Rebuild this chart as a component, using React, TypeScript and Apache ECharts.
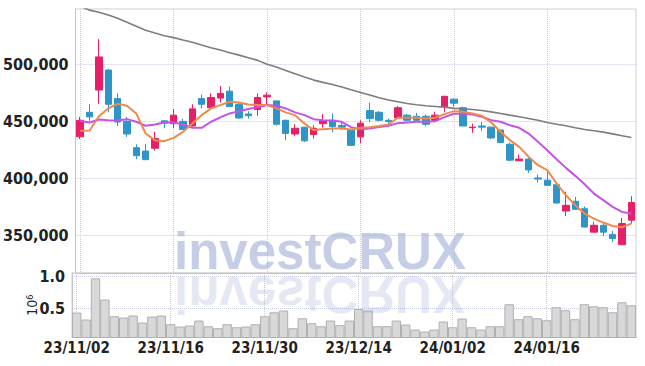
import React, { useEffect, useRef } from "react";
import * as echarts from "echarts";

const dates = [
  "23/11/02", "23/11/03", "23/11/06", "23/11/07", "23/11/08", "23/11/09", "23/11/10", "23/11/13", "23/11/14", "23/11/15",
  "23/11/16", "23/11/17", "23/11/20", "23/11/21", "23/11/22", "23/11/23", "23/11/24", "23/11/27", "23/11/28", "23/11/29",
  "23/11/30", "23/12/01", "23/12/04", "23/12/05", "23/12/06", "23/12/07", "23/12/08", "23/12/11", "23/12/12", "23/12/13",
  "23/12/14", "23/12/15", "23/12/18", "23/12/19", "23/12/20", "23/12/21", "23/12/22", "23/12/26", "23/12/27", "23/12/28",
  "24/01/02", "24/01/03", "24/01/04", "24/01/05", "24/01/08", "24/01/09", "24/01/10", "24/01/11", "24/01/12", "24/01/15",
  "24/01/16", "24/01/17", "24/01/18", "24/01/19", "24/01/22", "24/01/23", "24/01/24", "24/01/25", "24/01/26", "24/01/29",
];

const opens = [
  436500, 458000, 477500, 495000, 470000, 450000, 427000, 424000, 426500, 450500,
  448000, 450000, 446000, 470000, 462000, 470500, 476500, 465000, 456500, 460500,
  471500, 468000, 451000, 439000, 445000, 438500, 448000, 451000, 446500, 443000,
  436500, 459500, 458000, 451000, 453000, 455500, 454500, 454500, 451000, 463000,
  469500, 462000, 444500, 446000, 445000, 442500, 430000, 415500, 417000, 400500,
  398500, 394500, 371500, 380000, 373500, 353000, 359000, 351000, 342000, 363500,
];

const closes = [
  451000, 454000, 506500, 465000, 449500, 439000, 420000, 416500, 435000, 448500,
  455500, 443000, 461000, 465000, 471000, 474500, 463000, 453000, 455000, 471000,
  473000, 447500, 439500, 444000, 433000, 444000, 450500, 445500, 445000, 429000,
  448500, 452500, 451000, 450000, 462000, 451000, 451000, 447500, 455500, 472000,
  466000, 446000, 445000, 445000, 435500, 431500, 416000, 417000, 407500, 399500,
  394000, 378500, 376500, 373000, 357500, 359000, 353000, 347500, 360500, 379000,
];

const lows = [
  434500, 450500, 465500, 458000, 446000, 436500, 417000, 416000, 424500, 444000,
  444000, 443000, 445500, 461500, 461500, 466500, 462500, 452500, 452500, 455000,
  465000, 446500, 433500, 437000, 432000, 435000, 444500, 440500, 442500, 429000,
  431000, 449500, 450000, 447500, 452500, 450000, 450000, 446000, 450000, 458000,
  463000, 446000, 440000, 441500, 434500, 431000, 415500, 415500, 405000, 396500,
  393500, 378000, 367000, 372500, 357000, 353000, 349500, 344500, 342000, 360500,
];

const highs = [
  454000, 465000, 522000, 496000, 474500, 454000, 430000, 430000, 441000, 451000,
  461000, 452500, 465000, 473500, 474500, 481000, 480500, 466500, 459000, 474500,
  475500, 468000, 451500, 447500, 445000, 446500, 456500, 457000, 449000, 443000,
  451000, 466500, 459000, 452500, 463500, 456500, 457500, 456000, 458500, 472500,
  470000, 463000, 448000, 449500, 445500, 442500, 431500, 421000, 418000, 403500,
  406000, 397000, 388500, 384000, 375500, 362000, 361000, 354000, 365500, 384500,
];

const ma5 = [
  441800, 442100, 454600, 461400, 465500, 463700, 457000, 439400, 433600, 432700,
  435600, 440900, 448200, 455500, 461400, 464300, 467200, 466600, 464900, 464300,
  464300, 461400, 457900, 455500, 448200, 442400, 443200, 443800, 443800, 442900,
  444400, 445000, 445900, 447300, 453200, 453200, 453200, 452600, 453200, 456400,
  459000, 458400, 457000, 454900, 449100, 440900, 433600, 427700, 419000, 411700,
  407300, 395600, 385300, 376600, 369300, 364900, 361400, 358400, 357300, 360500,
];

const ma10 = [
  450300, 449100, 451700, 451100, 450800, 452000, 449700, 446200, 447300, 449100,
  449100, 447300, 444400, 444400, 449700, 453500, 457000, 459000, 460800, 462500,
  464300, 463700, 461400, 457900, 455500, 452000, 451100, 450800, 449700, 445000,
  443200, 443800, 445000, 446200, 448500, 449100, 449700, 449700, 450200, 453800,
  456700, 456700, 456100, 454100, 451100, 449700, 446700, 444400, 439400, 432100,
  424800, 416900, 409300, 402300, 395000, 386800, 381000, 375100, 370700, 369300,
];

const ma60 = [
  551000, 547500, 545600, 543200, 540300, 536800, 533300, 529800, 527400, 525100,
  523400, 521300, 519300, 516900, 514600, 512500, 510200, 508100, 505800, 503500,
  500000, 497600, 494700, 491800, 488900, 486200, 484200, 482400, 480100, 477700,
  475400, 473100, 470700, 468700, 467200, 465700, 464600, 463700, 463100, 462500,
  461400, 461100, 460500, 459600, 458400, 457000, 455500, 454100, 452600, 451100,
  449100, 447600, 446200, 444400, 442900, 441800, 440600, 439100, 437400, 435900,
];

// trading volume, millions of shares
const volumes = [
  0.436, 0.326, 0.973, 0.64, 0.378, 0.357, 0.389, 0.279, 0.373, 0.389,
  0.252, 0.216, 0.232, 0.31, 0.221, 0.19, 0.252, 0.205, 0.216, 0.252,
  0.378, 0.44, 0.467, 0.19, 0.346, 0.268, 0.221, 0.31, 0.237, 0.31,
  0.492, 0.467, 0.221, 0.221, 0.31, 0.247, 0.169, 0.138, 0.169, 0.295,
  0.205, 0.342, 0.205, 0.169, 0.221, 0.221, 0.566, 0.331, 0.378, 0.346,
  0.315, 0.519, 0.472, 0.331, 0.566, 0.534, 0.519, 0.44, 0.597, 0.55,
];

const priceTicks = [350000, 400000, 450000, 500000];
const volumeTicks = [0.5, 1.0];

export default function App() {
  const ref = useRef<HTMLDivElement>(null);
  useEffect(() => {
    const chart = echarts.init(ref.current!, null, { renderer: "svg" });
    const font = "'Liberation Sans Narrow', 'DejaVu Sans Condensed', 'Roboto', sans-serif";
    const gridColor = "#c6cce0";
    const candleData = dates.map((_, i) => [opens[i], closes[i], lows[i], highs[i]]);
    const wmFont = "bold 51px 'Liberation Sans', Arial, sans-serif";
    chart.setOption({
      animation: false,
      backgroundColor: "#ffffff",
      grid: [
        { left: 72, right: 9, top: 9, height: 264, show: true, borderColor: "#d0d0d0", borderWidth: 1 },
        { left: 72, right: 9, top: 273, height: 64.5, show: true, borderColor: "#d0d0d0", borderWidth: 1 },
      ],
      xAxis: [
        {
          type: "category", data: dates, gridIndex: 0, boundaryGap: true,
          axisLine: { show: true, lineStyle: { color: "#c4c4c4" } },
          axisTick: { show: false },
          axisLabel: { show: false, interval: 9 },
          splitLine: { show: true, interval: 9, alignWithLabel: true, lineStyle: { color: gridColor, type: "dotted", width: 1 } },
        },
        {
          type: "category", data: dates, gridIndex: 1, boundaryGap: true,
          axisLine: { show: true, lineStyle: { color: "#b8b8b8" } },
          axisTick: { show: false },
          axisLabel: { show: true, interval: 9, fontSize: 15, fontWeight: "bold", color: "#222", fontFamily: font, margin: 3 },
          splitLine: { show: true, interval: 9, alignWithLabel: true, lineStyle: { color: gridColor, type: "dotted", width: 1 } },
        },
      ],
      yAxis: [
        {
          type: "value", gridIndex: 0, min: 317200, max: 548500, scale: true,
          axisLine: { show: true, lineStyle: { color: "#c4c4c4" } },
          axisTick: { show: false, customValues: priceTicks },
          axisLabel: {
            customValues: priceTicks, fontSize: 16, fontWeight: "bold", color: "#222", fontFamily: font, margin: 7,
            formatter: (v: number) => v.toLocaleString("en-US"),
          },
          splitLine: { show: true, lineStyle: { color: gridColor, type: "dotted", width: 1 } },
        },
        {
          type: "value", gridIndex: 1, min: 0.044, max: 1.056,
          name: "10{s|6}", nameLocation: "middle", nameRotate: 90, nameGap: 33, nameMoveOverlap: false,
          nameTextStyle: {
            fontSize: 14, color: "#222", fontFamily: font,
            rich: { s: { fontSize: 9, color: "#222", fontFamily: font, verticalAlign: "top", lineHeight: 14 } },
          },
          axisLine: { show: true, lineStyle: { color: "#c4c4c4" } },
          axisTick: { show: false, customValues: volumeTicks },
          axisLabel: {
            customValues: volumeTicks, fontSize: 16, fontWeight: "bold", color: "#222", fontFamily: font, margin: 7,
            formatter: (v: number) => v.toFixed(1),
          },
          splitLine: { show: true, lineStyle: { color: gridColor, type: "dotted", width: 1 } },
        },
      ],
      series: [
        {
          type: "candlestick", name: "Price", xAxisIndex: 0, yAxisIndex: 0, data: candleData, barWidth: 7,
          itemStyle: { color: "#e61f68", color0: "#2f95c8", borderColor: "#e61f68", borderColor0: "#2f95c8", borderWidth: 1 },
          z: 3,
        },
        {
          type: "line", name: "MA60", xAxisIndex: 0, yAxisIndex: 0, data: ma60, showSymbol: false,
          lineStyle: { color: "#7d7d7d", width: 1.6 }, z: 4,
        },
        {
          type: "line", name: "MA10", xAxisIndex: 0, yAxisIndex: 0, data: ma10, showSymbol: false,
          lineStyle: { color: "#c553e8", width: 2 }, z: 4,
        },
        {
          type: "line", name: "MA5", xAxisIndex: 0, yAxisIndex: 0, data: ma5, showSymbol: false,
          lineStyle: { color: "#ef8a4c", width: 2 }, z: 5,
        },
        {
          type: "bar", name: "Volume", xAxisIndex: 1, yAxisIndex: 1, data: volumes, barCategoryGap: "0%",
          itemStyle: { color: "#d8d8d8", borderColor: "#b0b0b0", borderWidth: 1 },
        },
      ],
      graphic: [
        {
          type: "text", x: 320, y: 251.5, z: 100, silent: true,
          style: {
            text: "investCRUX", font: wmFont, fill: "rgba(150,165,210,0.55)",
            textAlign: "center", textVerticalAlign: "middle", align: "center", verticalAlign: "middle",
          },
        },
        {
          type: "text", x: 320, y: 273, scaleY: -1, z: 100, silent: true,
          style: {
            text: "investCRUX", x: 0, y: -21.5, font: wmFont, fill: "rgba(150,165,210,0.25)",
            textAlign: "center", textVerticalAlign: "middle", align: "center", verticalAlign: "middle",
          },
        },
      ],
    });
    return () => chart.dispose();
  }, []);
  return <div ref={ref} style={{ position: "fixed", left: 0, top: 0, width: 645, height: 366 }} />;
}
